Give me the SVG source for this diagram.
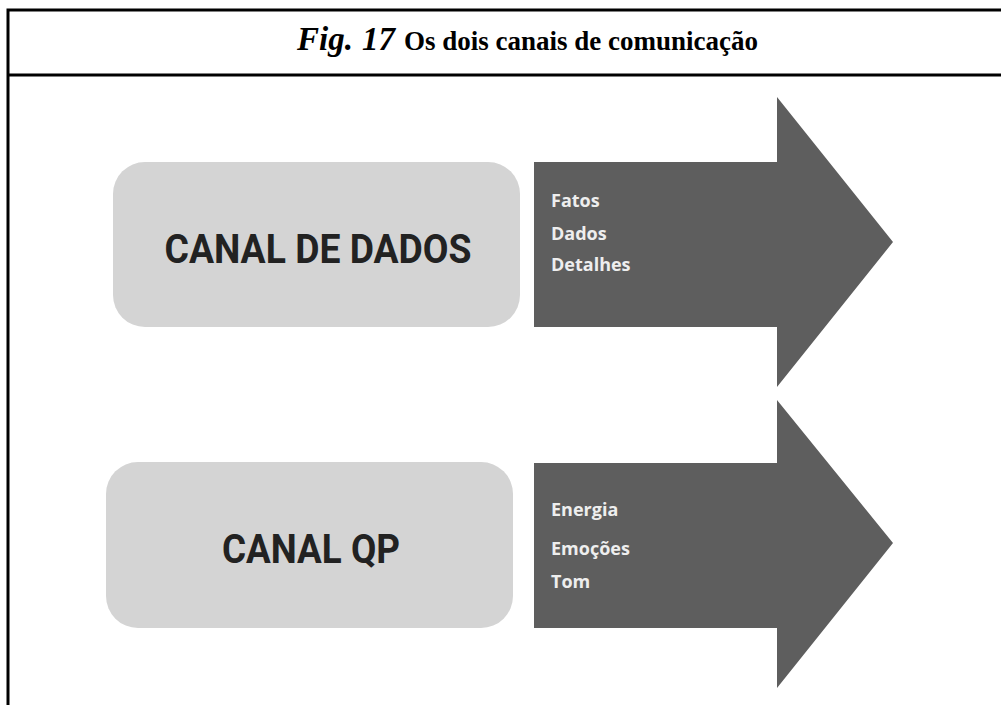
<svg xmlns="http://www.w3.org/2000/svg" width="1001" height="705" viewBox="0 0 1001 705">
<style>
.frame{stroke:#000;stroke-width:3;fill:none}
.box{fill:#d4d4d4}
.arrow{fill:#5e5e5e}
.boxtxt{font-family:Roboto,"Liberation Sans",sans-serif;font-weight:bold;font-size:40px;fill:#222;text-anchor:middle}
.lbl{font-family:"Open Sans","Noto Sans",sans-serif;font-weight:bold;font-size:18px;fill:#eeeeee}
.fig{font-family:"Liberation Serif",serif;font-weight:bold;font-style:italic;font-size:33px}
.ttl{font-family:"Liberation Serif",serif;font-weight:bold;font-size:27px}
</style>
<rect width="1001" height="705" fill="#fff"/>
<g id="frame">
<path class="frame" d="M1001 10 H8 V705 M8 75 H1001"/>
<text y="50"><tspan class="fig" x="297">Fig.</tspan><tspan class="fig" x="362">17</tspan><tspan class="ttl" x="404">Os dois canais de comunicação</tspan></text>
</g>
<g id="canal-dados">
<rect class="box" x="113" y="162" width="407" height="165" rx="32"/>
<text class="boxtxt" x="318" y="263" textLength="307" lengthAdjust="spacingAndGlyphs">CANAL DE DADOS</text>
</g>
<g id="arrow-dados">
<polygon class="arrow" points="534,162 777,162 777,97 893,242 777,387 777,327 534,327"/>
<text class="lbl" x="551" y="207">Fatos</text>
<text class="lbl" x="551" y="240">Dados</text>
<text class="lbl" x="551" y="271">Detalhes</text>
</g>
<g id="canal-qp">
<rect class="box" x="106" y="462" width="407" height="166" rx="32"/>
<text class="boxtxt" x="311" y="563" textLength="178" lengthAdjust="spacingAndGlyphs">CANAL QP</text>
</g>
<g id="arrow-qp">
<polygon class="arrow" points="534,463 777,463 777,400 893,543 777,688 777,628 534,628"/>
<text class="lbl" x="551" y="516">Energia</text>
<text class="lbl" x="551" y="555">Emoções</text>
<text class="lbl" x="551" y="588">Tom</text>
</g>
<g id="connectors"></g>
</svg>
